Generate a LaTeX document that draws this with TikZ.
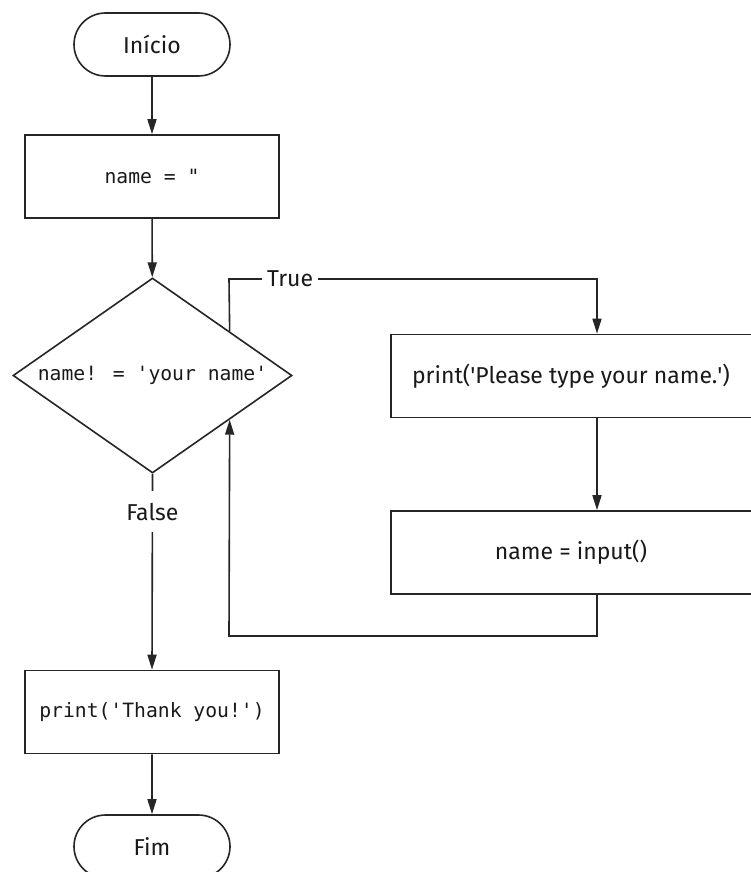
\documentclass[tikz,border=0pt]{standalone}
\usepackage{fontspec}
\setsansfont{Fira Sans}
\newfontfamily\codefont{DejaVu Sans Mono}
\usetikzlibrary{shapes.geometric,shapes.misc,arrows.meta,calc}

% text of a wide box, kept centred left of the box centre
\newcommand{\leftset}[1]{#1\hspace*{40pt}}

\begin{document}
\begin{tikzpicture}[x=1pt,y=-1pt,
  line/.style={draw=black!85, line width=1.6pt},
  flow/.style={line, -{Triangle[length=15pt,width=9pt]}},
  sanstext/.style={font=\sffamily\fontsize{23}{27}\selectfont, text=black!90},
  codetext/.style={font=\codefont\fontsize{19.7}{24}\selectfont, text=black!90},
  terminal/.style={line, rounded rectangle, minimum width=156pt, minimum height=63pt, inner sep=0pt, sanstext},
  codebox/.style={line, rectangle, minimum width=254pt, minimum height=83pt, inner sep=0pt, codetext},
  textbox/.style={line, rectangle, minimum width=400pt, minimum height=83pt, inner sep=0pt, sanstext},
  decision/.style={line, diamond, aspect=1.43, minimum width=279pt, minimum height=195pt, inner sep=0pt, codetext},
  branch/.style={fill=white, sanstext, inner xsep=5pt, inner ysep=12pt}
]
\path[use as bounding box] (0,0) rectangle (751,872);
\fill[white] (0,0) rectangle (751,872);
\clip (0,0) rectangle (751,872);

% nodes
\node[terminal] (start) at (152,44.5) {Início};
\node[codebox] (init) at (152,176.5) {name = \textquotedbl};
\node[decision] (test) at (152.5,375.5) {name! = \textquotesingle your name\textquotesingle};
\node[textbox] (ask) at (591,376) {\leftset{print(\textquotesingle Please type your name.\textquotesingle)}};
\node[textbox] (read) at (591,552.5) {\leftset{name = input()}};
\node[codebox] (thanks) at (152,712) {print(\textquotesingle Thank you!\textquotesingle)};
\node[terminal] (stop) at (152,846.5) {Fim};

% routing points
\coordinate (tout) at ($(test.north)!0.55!(test.east)$);
\coordinate (tin) at ($(test.south)!0.55!(test.east)$);
\coordinate (ttop) at (229,279);
\coordinate (tright) at (597,279);
\coordinate (lbot) at (597,636);
\coordinate (lleft) at (229,636);

% connectors
\draw[flow] (start) -- (init);
\draw[flow] (init) -- (test);
\draw[flow] (tout) -- (ttop) -- node[branch, pos=0.166] (truelbl) {True} (tright) -- (tright |- ask.north);
\draw[flow] (ask.south -| tright) -- (read.north -| tright);
\draw[flow] (read.south -| tright) -- (lbot) -- (lleft) -- (tin);
\draw[flow] (test.south) -- node[branch, pos=0.193] (falselbl) {False} (thanks.north);
\draw[flow] (thanks) -- (stop);
\end{tikzpicture}
\end{document}
